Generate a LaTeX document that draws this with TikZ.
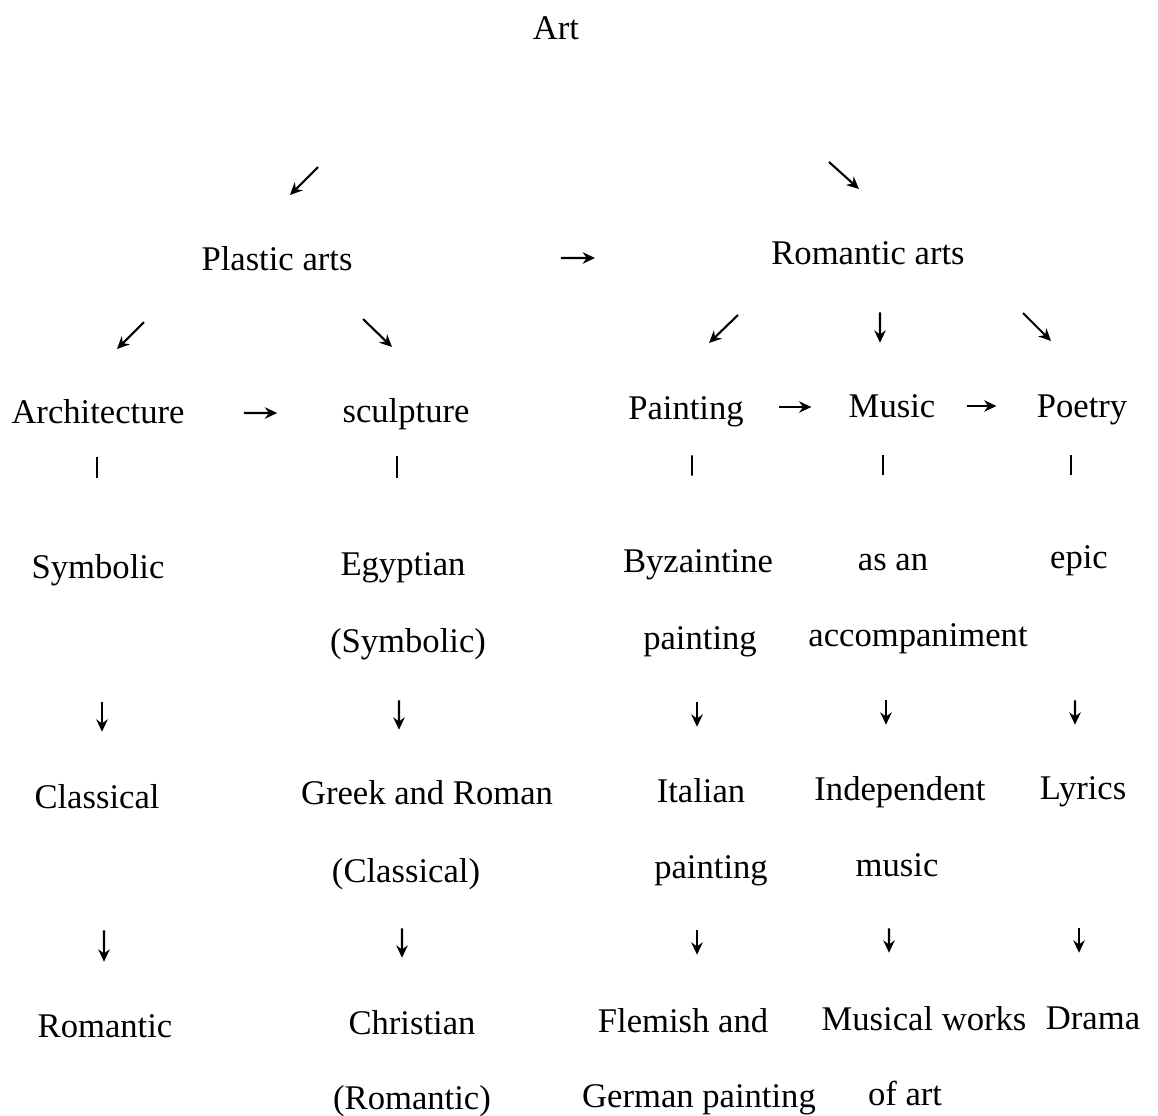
\documentclass[tikz,border=0pt]{standalone}
\usepackage{fontspec}
\setmainfont{Liberation Serif}
\usetikzlibrary{arrows.meta}

\begin{document}
\begin{tikzpicture}[
    word/.style={inner sep=0pt, text height=15.4pt, text depth=1.6pt, font=\fontsize{19.7pt}{24pt}\selectfont},
    arr/.style={line width=1.2pt, -{Stealth[length=7pt,width=6.5pt]}},
    bar/.style={line width=1.1pt}
]
    \useasboundingbox (0,0) rectangle (23.16,-22.30);
    % top
    \node[word] (art) at (11.12,-0.54) {Art};
    \node[word] (plastic) at (5.54,-5.16) {Plastic arts};
    \node[word] (romantic) at (17.36,-5.04) {Romantic arts};
    % the five arts
    \node[word] (arch) at (1.96,-8.22) {Architecture};
    \node[word] (sculp) at (8.12,-8.20) {sculpture};
    \node[word] (paint) at (13.72,-8.14) {Painting};
    \node[word] (music) at (17.84,-8.10) {Music};
    \node[word] (poetry) at (21.64,-8.10) {Poetry};
    % first stage
    \node[word] (sym) at (1.96,-11.32) {Symbolic};
    \node[word] (egypt) at (8.06,-11.26) {Egyptian};
    \node[word] (egyptb) at (8.16,-12.80) {(Symbolic)};
    \node[word] (byz) at (13.96,-11.20) {Byzaintine};
    \node[word] (byzb) at (14.00,-12.74) {painting};
    \node[word] (asan) at (17.86,-11.16) {as an};
    \node[word] (asanb) at (18.36,-12.68) {accompaniment};
    \node[word] (epic) at (21.58,-11.12) {epic};
    % second stage
    \node[word] (classical) at (1.94,-15.92) {Classical};
    \node[word] (greek) at (8.54,-15.84) {Greek and Roman};
    \node[word] (greekb) at (8.12,-17.40) {(Classical)};
    \node[word] (italian) at (14.02,-15.80) {Italian};
    \node[word] (italianb) at (14.22,-17.32) {painting};
    \node[word] (indep) at (18.00,-15.76) {Independent};
    \node[word] (indepb) at (17.94,-17.28) {music};
    \node[word] (lyrics) at (21.66,-15.74) {Lyrics};
    % third stage
    \node[word] (rom) at (2.10,-20.50) {Romantic};
    \node[word] (christ) at (8.24,-20.44) {Christian};
    \node[word] (christb) at (8.24,-21.94) {(Romantic)};
    \node[word] (flem) at (13.66,-20.40) {Flemish and};
    \node[word] (flemb) at (13.98,-21.90) {German painting};
    \node[word] (musw) at (18.48,-20.36) {Musical works};
    \node[word] (muswb) at (18.10,-21.86) {of art};
    \node[word] (drama) at (21.86,-20.34) {Drama};
    % slanted arrows
    \coordinate (s1) at (6.36,-3.34);
    \coordinate (t1) at (5.80,-3.90);
    \coordinate (s2) at (16.58,-3.24);
    \coordinate (t2) at (17.18,-3.78);
    \coordinate (s3) at (2.88,-6.44);
    \coordinate (t3) at (2.34,-6.98);
    \coordinate (s4) at (7.26,-6.38);
    \coordinate (t4) at (7.84,-6.94);
    \coordinate (s5) at (14.76,-6.30);
    \coordinate (t5) at (14.18,-6.86);
    \coordinate (s6) at (20.46,-6.26);
    \coordinate (t6) at (21.02,-6.82);
    \draw[arr] (s1) -- (t1);
    \draw[arr] (s2) -- (t2);
    \draw[arr] (s3) -- (t3);
    \draw[arr] (s4) -- (t4);
    \draw[arr] (s5) -- (t5);
    \draw[arr] (s6) -- (t6);
    \draw[arr, shorten <=0.90cm, shorten >=0.94cm] ([xshift=0.24cm]romantic.south) -- ([xshift=-0.24cm]music.north);
    % across
    \draw[arr, shorten <=4.16cm, shorten >=3.52cm] (plastic.east) -- ([yshift=-0.12cm]romantic.west);
    \draw[arr, shorten <=1.18cm, shorten >=1.30cm] ([yshift=-0.04cm]arch.east) -- ([yshift=-0.06cm]sculp.west);
    \draw[arr, shorten <=0.70cm, shorten >=0.74cm] (paint.east) -- ([yshift=-0.04cm]music.west);
    \draw[arr, shorten <=0.62cm, shorten >=0.80cm] ([yshift=-0.02cm]music.east) -- ([yshift=-0.02cm]poetry.west);
    % bars
    \draw[bar, shorten <=0.62cm, shorten >=1.46cm] ([xshift=-0.02cm]arch.south) -- ([xshift=-0.02cm]sym.north);
    \draw[bar, shorten <=0.62cm, shorten >=1.40cm] ([xshift=-0.18cm]sculp.south) -- ([xshift=-0.12cm]egypt.north);
    \draw[bar, shorten <=0.66cm, shorten >=1.38cm] ([xshift=0.12cm]paint.south) -- ([xshift=-0.12cm]byz.north);
    \draw[bar, shorten <=0.70cm, shorten >=1.36cm] ([xshift=-0.18cm]music.south) -- ([xshift=-0.20cm]asan.north);
    \draw[bar, shorten <=0.70cm, shorten >=1.32cm] ([xshift=-0.22cm]poetry.south) -- ([xshift=-0.16cm]epic.north);
    % down to second stage
    \draw[arr, shorten <=2.42cm, shorten >=0.98cm] ([xshift=0.08cm]sym.south) -- ([xshift=0.10cm]classical.north);
    \draw[arr, shorten <=0.90cm, shorten >=0.94cm] ([xshift=-0.18cm]egyptb.south) -- ([xshift=-0.56cm]greek.north);
    \draw[arr, shorten <=1.00cm, shorten >=0.96cm] ([xshift=-0.06cm]byzb.south) -- ([xshift=-0.08cm]italian.north);
    \draw[arr, shorten <=1.02cm, shorten >=0.96cm] ([xshift=-0.64cm]asanb.south) -- ([xshift=-0.28cm]indep.north);
    \draw[arr, shorten <=2.58cm, shorten >=0.94cm] ([xshift=-0.08cm]epic.south) -- ([xshift=-0.16cm]lyrics.north);
    % down to third stage
    \draw[arr, shorten <=2.38cm, shorten >=0.96cm] ([xshift=0.14cm]classical.south) -- ([xshift=-0.02cm]rom.north);
    \draw[arr, shorten <=0.86cm, shorten >=0.98cm] ([xshift=-0.08cm]greekb.south) -- ([xshift=-0.20cm]christ.north);
    \draw[arr, shorten <=0.98cm, shorten >=1.00cm] ([xshift=-0.28cm]italianb.south) -- ([xshift=0.28cm]flem.north);
    \draw[arr, shorten <=0.98cm, shorten >=1.00cm] ([xshift=-0.16cm]indepb.south) -- ([xshift=-0.70cm]musw.north);
    \draw[arr, shorten <=2.52cm, shorten >=0.98cm] ([xshift=-0.08cm]lyrics.south) -- ([xshift=-0.28cm]drama.north);
\end{tikzpicture}
\end{document}
